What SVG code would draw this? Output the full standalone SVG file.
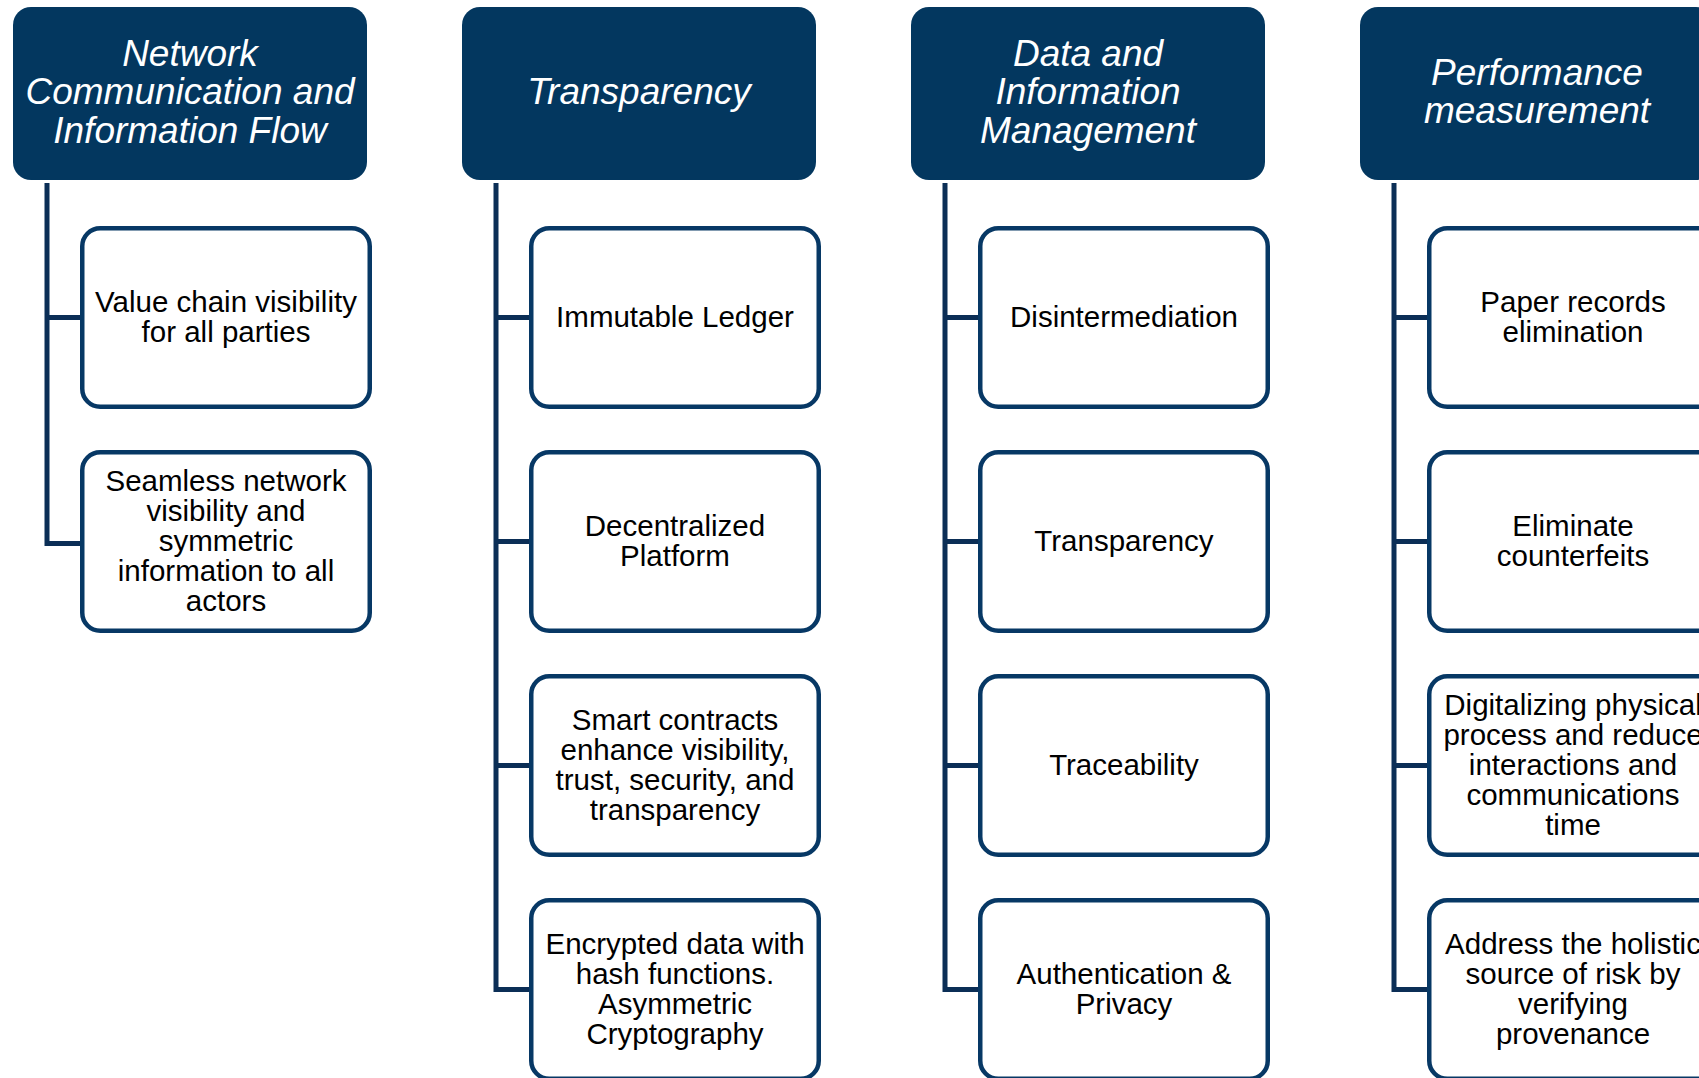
<svg xmlns="http://www.w3.org/2000/svg" width="1699" height="1078" viewBox="0 0 1699 1078">
<style>
.hdr{fill:#03375f;}
.ht{font-family:"Liberation Sans",Arial,sans-serif;font-style:italic;font-size:37px;fill:#ffffff;text-anchor:middle;}
.box{fill:#ffffff;stroke:#073865;stroke-width:4.5;}
.bt{font-family:"Liberation Sans",Arial,sans-serif;font-size:29.5px;fill:#000000;text-anchor:middle;}
.ln{stroke:#0b2e56;stroke-width:5;fill:none;stroke-linejoin:miter;}
</style>
<rect width="1699" height="1078" fill="#ffffff"/>
<g id="connectors">
<path class="ln" d="M47,183 V543.5 H82 M47,317.5 H82"/>
<path class="ln" d="M496,183 V989.5 H531 M496,317.5 H531 M496,541.5 H531 M496,765.5 H531"/>
<path class="ln" d="M945,183 V989.5 H980 M945,317.5 H980 M945,541.5 H980 M945,765.5 H980"/>
<path class="ln" d="M1394,183 V989.5 H1429 M1394,317.5 H1429 M1394,541.5 H1429 M1394,765.5 H1429"/>
</g>
<g id="h1"><rect class="hdr" x="13" y="7" width="354" height="173" rx="18"/>
<text class="ht"><tspan x="190" y="65.5">Network</tspan><tspan x="190" y="104">Communication and</tspan><tspan x="190" y="142.5">Information Flow</tspan></text></g>
<g id="h2"><rect class="hdr" x="462" y="7" width="354" height="173" rx="18"/>
<text class="ht"><tspan x="639" y="104">Transparency</tspan></text></g>
<g id="h3"><rect class="hdr" x="911" y="7" width="354" height="173" rx="18"/>
<text class="ht"><tspan x="1088" y="65.5">Data and</tspan><tspan x="1088" y="104">Information</tspan><tspan x="1088" y="142.5">Management</tspan></text></g>
<g id="h4"><rect class="hdr" x="1360" y="7" width="354" height="173" rx="18"/>
<text class="ht"><tspan x="1537" y="84.5">Performance</tspan><tspan x="1537" y="123">measurement</tspan></text></g>

<g id="c1n1"><rect class="box" x="82.25" y="228.25" width="287.5" height="178.5" rx="18"/>
<text class="bt"><tspan x="226" y="311.5">Value chain visibility</tspan><tspan x="226" y="341.5">for all parties</tspan></text></g>
<g id="c1n2"><rect class="box" x="82.25" y="452.25" width="287.5" height="178.5" rx="18"/>
<text class="bt"><tspan x="226" y="490.5">Seamless network</tspan><tspan x="226" y="520.5">visibility and</tspan><tspan x="226" y="550.5">symmetric</tspan><tspan x="226" y="580.5">information to all</tspan><tspan x="226" y="610.5">actors</tspan></text></g>

<g id="c2n1"><rect class="box" x="531.25" y="228.25" width="287.5" height="178.5" rx="18"/>
<text class="bt"><tspan x="675" y="326.5">Immutable Ledger</tspan></text></g>
<g id="c2n2"><rect class="box" x="531.25" y="452.25" width="287.5" height="178.5" rx="18"/>
<text class="bt"><tspan x="675" y="535.5">Decentralized</tspan><tspan x="675" y="565.5">Platform</tspan></text></g>
<g id="c2n3"><rect class="box" x="531.25" y="676.25" width="287.5" height="178.5" rx="18"/>
<text class="bt"><tspan x="675" y="729.5">Smart contracts</tspan><tspan x="675" y="759.5">enhance visibility,</tspan><tspan x="675" y="789.5">trust, security, and</tspan><tspan x="675" y="819.5">transparency</tspan></text></g>
<g id="c2n4"><rect class="box" x="531.25" y="900.25" width="287.5" height="178.5" rx="18"/>
<text class="bt"><tspan x="675" y="953.5">Encrypted data with</tspan><tspan x="675" y="983.5">hash functions.</tspan><tspan x="675" y="1013.5">Asymmetric</tspan><tspan x="675" y="1043.5">Cryptography</tspan></text></g>

<g id="c3n1"><rect class="box" x="980.25" y="228.25" width="287.5" height="178.5" rx="18"/>
<text class="bt"><tspan x="1124" y="326.5">Disintermediation</tspan></text></g>
<g id="c3n2"><rect class="box" x="980.25" y="452.25" width="287.5" height="178.5" rx="18"/>
<text class="bt"><tspan x="1124" y="550.5">Transparency</tspan></text></g>
<g id="c3n3"><rect class="box" x="980.25" y="676.25" width="287.5" height="178.5" rx="18"/>
<text class="bt"><tspan x="1124" y="774.5">Traceability</tspan></text></g>
<g id="c3n4"><rect class="box" x="980.25" y="900.25" width="287.5" height="178.5" rx="18"/>
<text class="bt"><tspan x="1124" y="983.5">Authentication &amp;</tspan><tspan x="1124" y="1013.5">Privacy</tspan></text></g>

<g id="c4n1"><rect class="box" x="1429.25" y="228.25" width="287.5" height="178.5" rx="18"/>
<text class="bt"><tspan x="1573" y="311.5">Paper records</tspan><tspan x="1573" y="341.5">elimination</tspan></text></g>
<g id="c4n2"><rect class="box" x="1429.25" y="452.25" width="287.5" height="178.5" rx="18"/>
<text class="bt"><tspan x="1573" y="535.5">Eliminate</tspan><tspan x="1573" y="565.5">counterfeits</tspan></text></g>
<g id="c4n3"><rect class="box" x="1429.25" y="676.25" width="287.5" height="178.5" rx="18"/>
<text class="bt"><tspan x="1573" y="714.5">Digitalizing physical</tspan><tspan x="1573" y="744.5">process and reduce</tspan><tspan x="1573" y="774.5">interactions and</tspan><tspan x="1573" y="804.5">communications</tspan><tspan x="1573" y="834.5">time</tspan></text></g>
<g id="c4n4"><rect class="box" x="1429.25" y="900.25" width="287.5" height="178.5" rx="18"/>
<text class="bt"><tspan x="1573" y="953.5">Address the holistic</tspan><tspan x="1573" y="983.5">source of risk by</tspan><tspan x="1573" y="1013.5">verifying</tspan><tspan x="1573" y="1043.5">provenance</tspan></text></g>
</svg>
